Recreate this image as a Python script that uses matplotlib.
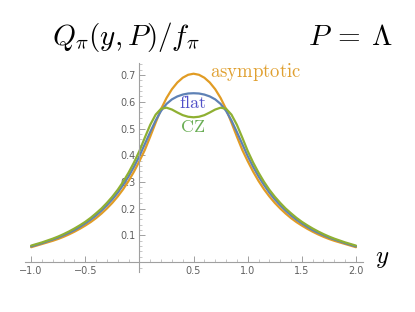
import matplotlib
matplotlib.use("Agg")
import matplotlib.pyplot as plt
import numpy as np
from matplotlib.ticker import MultipleLocator, FixedLocator, FuncFormatter

plt.rcParams['mathtext.fontset'] = 'cm'

# Sample positions (y) from -1 to 2 in steps of 0.05
y_vals = np.round(np.linspace(-1.0, 2.0, 61), 2)

asymptotic = [0.056, 0.062, 0.068, 0.074, 0.080, 0.087, 0.095, 0.104, 0.114, 0.125,
              0.137, 0.150, 0.165, 0.182, 0.201, 0.222, 0.246, 0.273, 0.304, 0.339,
              0.378, 0.420, 0.470, 0.522, 0.573, 0.614, 0.647, 0.672, 0.690, 0.701,
              0.705,
              0.701, 0.690, 0.672, 0.647, 0.614, 0.573, 0.522, 0.470, 0.420, 0.378,
              0.339, 0.304, 0.273, 0.246, 0.222, 0.201, 0.182, 0.165, 0.150, 0.137,
              0.125, 0.114, 0.104, 0.095, 0.087, 0.080, 0.074, 0.068, 0.062, 0.056]

flat = [0.059, 0.065, 0.071, 0.078, 0.085, 0.092, 0.101, 0.110, 0.120, 0.132,
        0.145, 0.159, 0.175, 0.193, 0.213, 0.235, 0.260, 0.289, 0.321, 0.357,
        0.397, 0.442, 0.487, 0.530, 0.566, 0.592, 0.609, 0.620, 0.627, 0.631,
        0.632,
        0.631, 0.627, 0.620, 0.609, 0.592, 0.566, 0.530, 0.487, 0.442, 0.397,
        0.357, 0.321, 0.289, 0.260, 0.235, 0.213, 0.193, 0.175, 0.159, 0.145,
        0.132, 0.120, 0.110, 0.101, 0.092, 0.085, 0.078, 0.071, 0.065, 0.059]

cz = [0.062, 0.068, 0.074, 0.081, 0.088, 0.096, 0.105, 0.115, 0.126, 0.138,
      0.151, 0.166, 0.183, 0.201, 0.222, 0.245, 0.271, 0.301, 0.335, 0.373,
      0.416, 0.466, 0.514, 0.552, 0.574, 0.578, 0.571, 0.560, 0.550, 0.544,
      0.542,
      0.544, 0.550, 0.560, 0.571, 0.578, 0.574, 0.552, 0.514, 0.466, 0.416,
      0.373, 0.335, 0.301, 0.271, 0.245, 0.222, 0.201, 0.183, 0.166, 0.151,
      0.138, 0.126, 0.115, 0.105, 0.096, 0.088, 0.081, 0.074, 0.068, 0.062]

x_ticks = [-1.0, -0.5, 0.5, 1.0, 1.5, 2.0]
y_ticks = [0.1, 0.2, 0.3, 0.4, 0.5, 0.6, 0.7]

c_blue = '#5E81B5'
c_orange = '#E19C24'
c_green = '#8FB032'

fig = plt.figure(figsize=(4.15, 3.12), dpi=100)
ax = fig.add_axes([0.0602, 0.128, 0.8145, 0.670])

ax.plot(y_vals, asymptotic, color=c_orange, lw=1.6, solid_capstyle='round', solid_joinstyle='round')
ax.plot(y_vals, flat, color=c_blue, lw=1.6, solid_capstyle='round', solid_joinstyle='round')
ax.plot(y_vals, cz, color=c_green, lw=1.6, solid_capstyle='round', solid_joinstyle='round')

ax.set_xlim(-1.057, 2.065)
ax.set_ylim(-0.037, 0.745)

for s in ['top', 'right']:
    ax.spines[s].set_visible(False)
ax.spines['left'].set_position(('data', 0))
ax.spines['bottom'].set_position(('data', 0))
for s in ['left', 'bottom']:
    ax.spines[s].set_color('#a0a0a0')
    ax.spines[s].set_linewidth(0.8)

ax.xaxis.set_major_locator(FixedLocator(x_ticks))
ax.yaxis.set_major_locator(FixedLocator(y_ticks))
ax.xaxis.set_minor_locator(MultipleLocator(0.1))
ax.yaxis.set_minor_locator(MultipleLocator(0.02))
fmt = FuncFormatter(lambda v, p: ('\u2212' if v < 0 else '') + f"{abs(v):.1f}")
ax.xaxis.set_major_formatter(fmt)
ax.yaxis.set_major_formatter(fmt)
ax.tick_params(which='major', direction='in', length=4, width=0.7, color='#a0a0a0',
               labelsize=7, labelcolor='#606060', pad=3)
ax.tick_params(which='minor', direction='in', length=2.2, width=0.5, color='#b0b0b0')
ax.patch.set_alpha(0)

fig.text(0.125, 0.883, r'$Q_\pi(y,P)/f_\pi$', fontsize=21, ha='left', va='center')
fig.text(0.742, 0.883, r'$P\:=\:\Lambda$', fontsize=21, ha='left', va='center')
fig.text(0.922, 0.172, r'$y$', fontsize=18, ha='center', va='center')

ax.text(0.654, 0.712, r'$\mathrm{asymptotic}$', color='#E0A030', fontsize=13.5,
        ha='left', va='center')
ax.text(0.49, 0.596, r'$\mathrm{flat}$', color='#5050C8', fontsize=13,
        ha='center', va='center')
ax.text(0.49, 0.507, r'$\mathrm{CZ}$', color='#6AAE55', fontsize=13,
        ha='center', va='center')

fig.savefig('out.png', dpi=100)
